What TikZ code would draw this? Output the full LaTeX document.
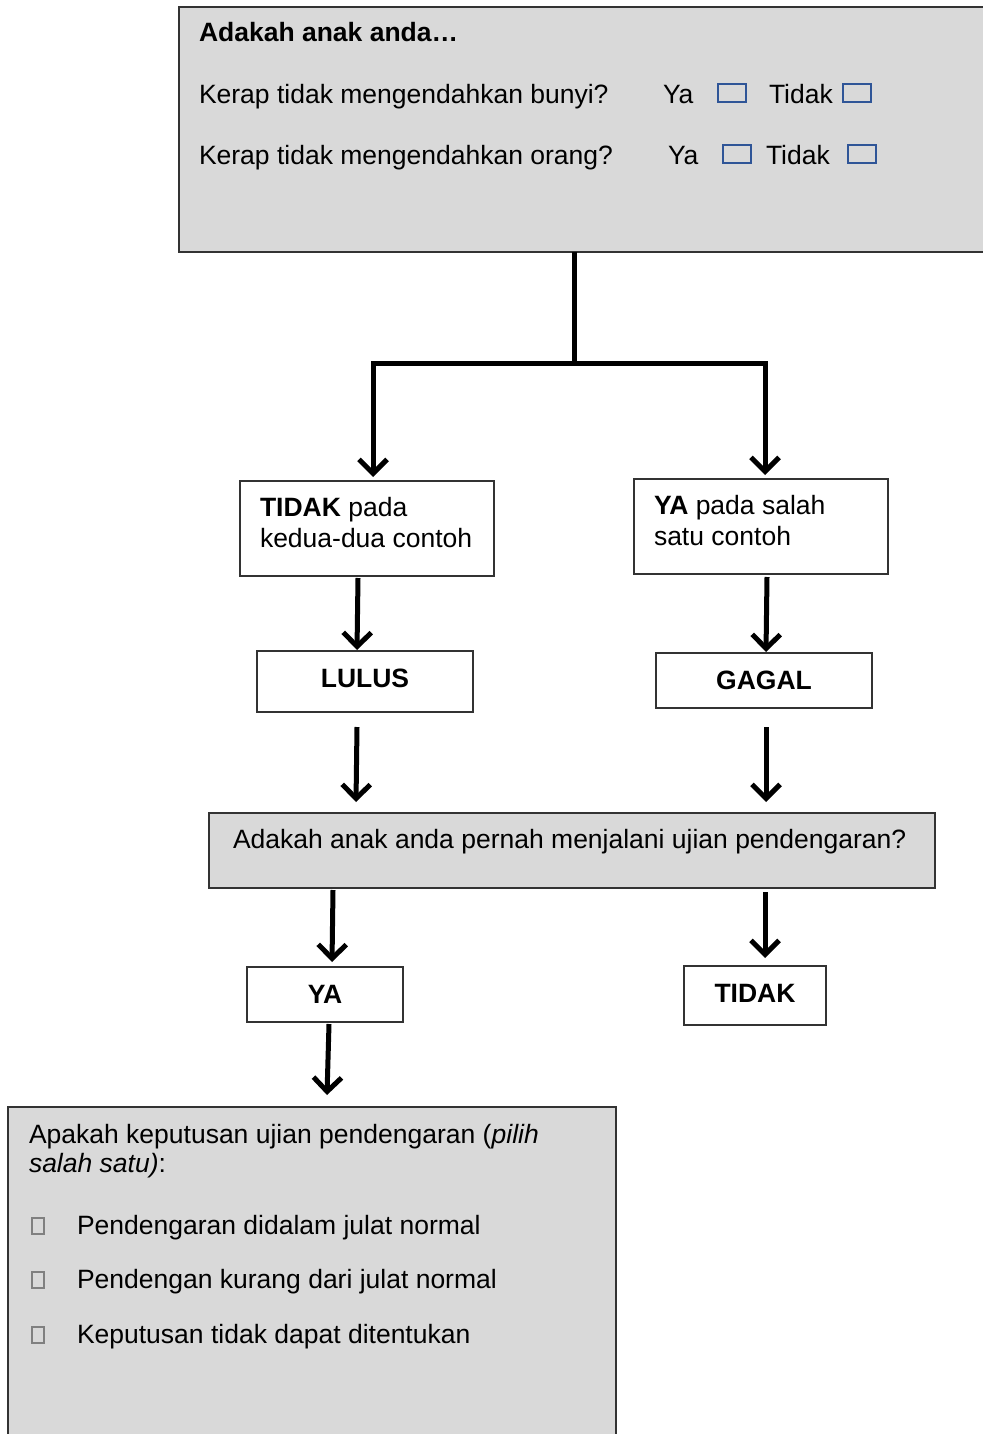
\documentclass[tikz,border=0pt]{standalone}
\usepackage{fontspec}
\setmainfont{Liberation Sans}
\usetikzlibrary{arrows.meta}
\definecolor{boxgray}{HTML}{D9D9D9}
\definecolor{tickblue}{HTML}{2F5597}
\definecolor{edge}{HTML}{333333}
\begin{document}
\begin{tikzpicture}[x=1pt,y=-1pt,
  every node/.style={inner sep=0pt, outer sep=0pt},
  txt/.style={anchor=base west, font=\fontsize{26.5}{31}\selectfont},
  ctxt/.style={anchor=base, font=\fontsize{26.5}{31}\selectfont\bfseries},
  graybox/.style={draw=edge, line width=1.2pt, fill=boxgray, anchor=north west},
  whitebox/.style={draw=edge, line width=1.2pt, fill=white, anchor=north west},
  chk/.style={draw=tickblue, line width=1.6pt, anchor=north west, minimum width=28pt, minimum height=18pt},
  bullet/.style={draw=gray, line width=1.4pt, anchor=north west, minimum width=12pt, minimum height=16pt},
  link/.style={line width=5pt, line join=miter},
  arr/.style={line width=5pt, line join=miter, -{Straight Barb[length=14pt,width=28pt]}}
]
\useasboundingbox[fill=white] (0,0) rectangle (982,1434);

% first question box
\node[graybox, minimum width=808pt, minimum height=245pt] (q1) at (179,7) {};
\node[txt] (q1title) at (199,42) {\textbf{Adakah anak anda…}};
\node[txt] (q1a) at (199,104) {Kerap tidak mengendahkan bunyi?};
\node[txt] (ya1) at (663,104) {Ya};
\node[chk] (c1) at (718,84) {};
\node[txt] (td1) at (769,104) {Tidak};
\node[chk] (c2) at (843,84) {};
\node[txt] (q1b) at (199,165) {Kerap tidak mengendahkan orang?};
\node[txt] (ya2) at (668,165) {Ya};
\node[chk] (c3) at (723,145) {};
\node[txt] (td2) at (766,165) {Tidak};
\node[chk] (c4) at (848,145) {};

% outcome boxes
\node[whitebox, minimum width=254pt, minimum height=95pt] (notick) at (240,481) {};
\node[txt] at (260,516) {\textbf{TIDAK} pada};
\node[txt] at (260,547) {kedua-dua contoh};
\node[whitebox, minimum width=254pt, minimum height=95pt] (tick) at (634,479) {};
\node[txt] at (654,514) {\textbf{YA} pada salah};
\node[txt] at (654,545) {satu contoh};

\node[whitebox, minimum width=216pt, minimum height=61pt] (lulus) at (257,651) {};
\node[ctxt] at (365,687) {LULUS};
\node[whitebox, minimum width=216pt, minimum height=55pt] (gagal) at (656,653) {};
\node[ctxt] at (764,689) {GAGAL};

% second question
\node[graybox, minimum width=726pt, minimum height=75pt] (q2) at (209,813) {};
\node[txt] at (233,848) {Adakah anak anda pernah menjalani ujian pendengaran?};

\node[whitebox, minimum width=156pt, minimum height=55pt] (ya) at (247,967) {};
\node[ctxt] at (325,1003) {YA};
\node[whitebox, minimum width=142pt, minimum height=59pt] (tidak) at (684,966) {};
\node[ctxt] at (755,1002) {TIDAK};

% result box
\node[graybox, minimum width=608pt, minimum height=340pt] (q3) at (8,1107) {};
\node[txt] at (29,1143) {Apakah keputusan ujian pendengaran (\textit{pilih}};
\node[txt] at (29,1172) {\textit{salah satu)}:};
\node[bullet] (b1) at (32,1218) {};
\node[txt] at (77,1234) {Pendengaran didalam julat normal};
\node[bullet] (b2) at (32,1272) {};
\node[txt] at (77,1288) {Pendengan kurang dari julat normal};
\node[bullet] (b3) at (32,1327) {};
\node[txt] at (77,1343) {Keputusan tidak dapat ditentukan};

% connectors (yshift is measured upwards)
\coordinate (split) at (574,363);
\draw[link] (q1.south -| 574,0) -- (split);
\draw[arr] (split) -| ([yshift=4pt]notick.north -| 373,0);
\draw[arr] (split) -| ([yshift=4pt]tick.north -| 765,0);
\draw[arr] ([yshift=-2pt]notick.south -| 358,0) -- ([yshift=1pt]lulus.north -| 357,0);
\draw[arr] ([yshift=-3pt]tick.south -| 767,0) -- ([yshift=1pt]gagal.north -| 766,0);
\draw[arr] ([yshift=-15pt]lulus.south -| 357,0) -- ([yshift=11pt]q2.north -| 356,0);
\draw[arr] ([yshift=-19pt]gagal.south -| 766,0) -- ([yshift=11pt]q2.north -| 766,0);
\draw[arr] ([yshift=-2pt]q2.south -| 333,0) -- ([yshift=5pt]ya.north -| 332,0);
\draw[arr] ([yshift=-4pt]q2.south -| 765,0) -- ([yshift=8pt]tidak.north -| 765,0);
\draw[arr] ([yshift=-2pt]ya.south -| 329,0) -- ([yshift=12pt]q3.north -| 327,0);
\end{tikzpicture}
\end{document}
